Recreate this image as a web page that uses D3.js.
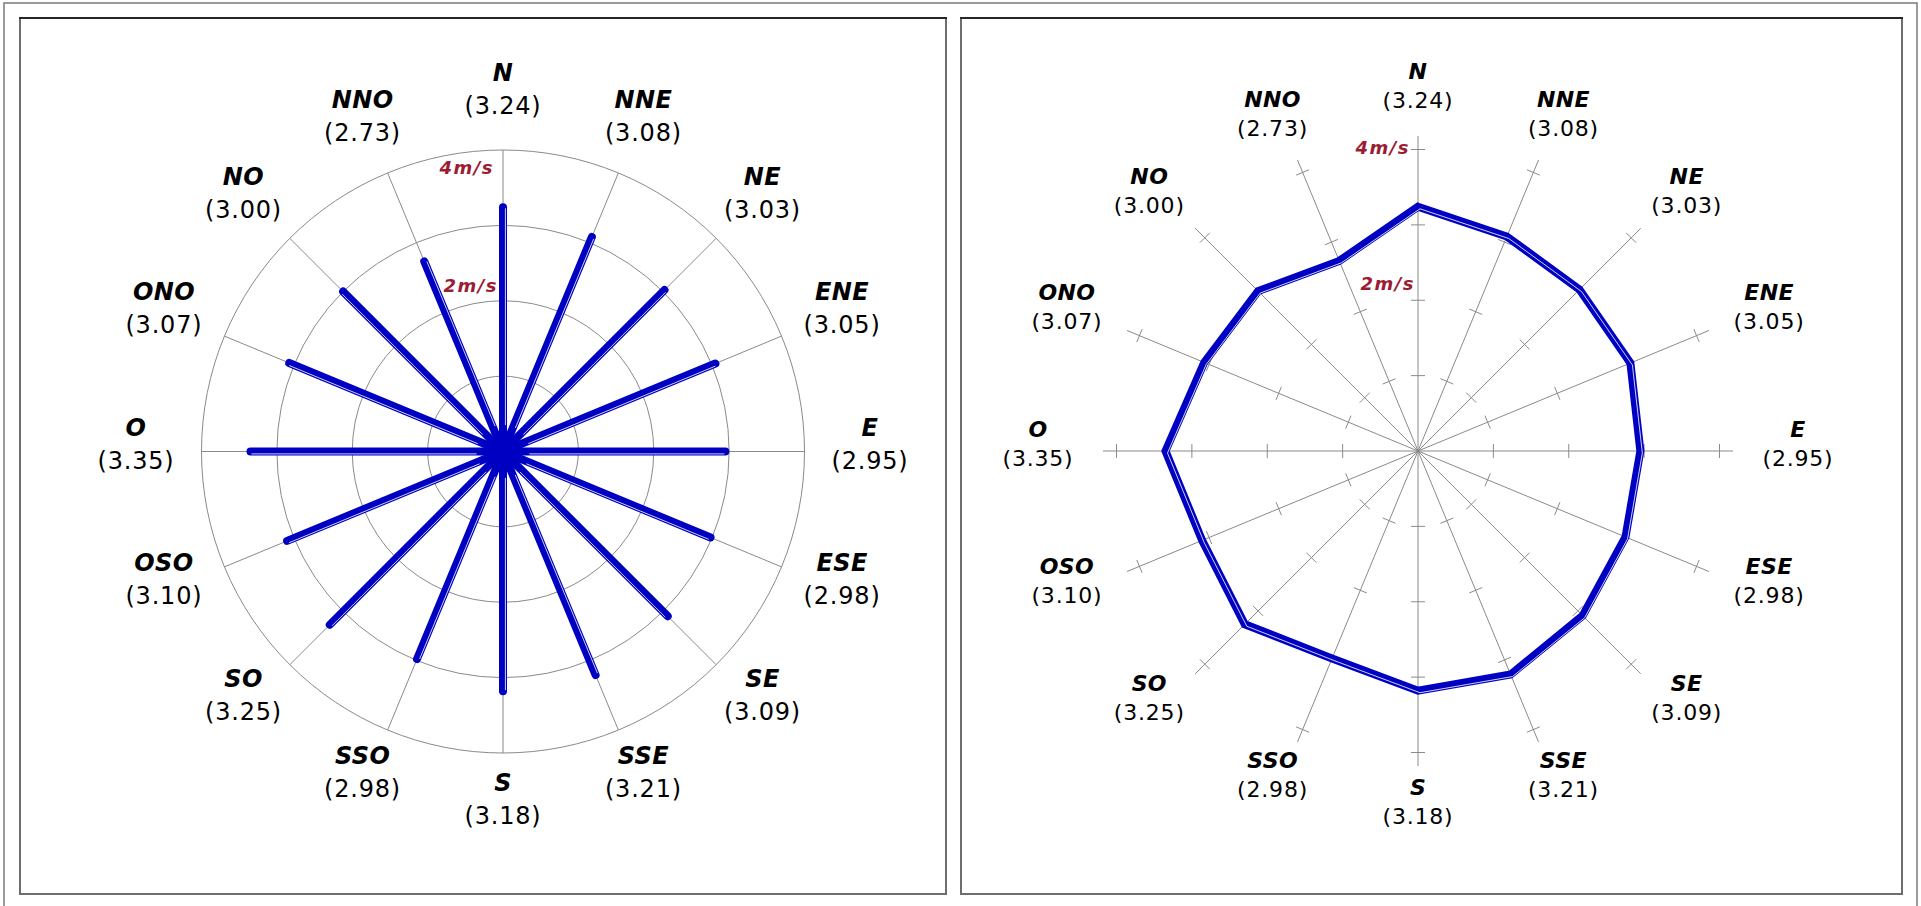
<!DOCTYPE html>
<html><head><meta charset="utf-8">
<script src="https://cdn.jsdelivr.net/npm/d3@7"></script>
<style>body{margin:0;background:#fff}svg{display:block}</style>
</head><body>
<svg id="c" width="1921" height="906"></svg>
<script>
// ---- data ----
const directions = ["N","NNE","NE","ENE","E","ESE","SE","SSE","S","SSO","SO","OSO","O","ONO","NO","NNO"];
const speeds = [3.24,3.08,3.03,3.05,2.95,2.98,3.09,3.21,3.18,2.98,3.25,3.10,3.35,3.07,3.00,2.73];
const ringValues = [1,2,3,4];
const speedLabelValues = [2,4];
const speedLabelTexts = ["2m/s","4m/s"];

// ---- layout / style ----
const svg = d3.select("#c");
const BLUE = "#0000c2", GRID = "#8a8a8a", RED = "#9b1c33";
const FONT = "'DejaVu Sans', Verdana, sans-serif";
const angle = d3.scalePoint().domain(directions).range([0, 2*Math.PI*(directions.length-1)/directions.length]);
const radius = d3.scaleLinear().domain([0,4]).range([0,301.5]);
const data = directions.map((d,i)=>({dir:d, v:speeds[i]}));
const fmt = d3.format(".2f");

// outer frame
svg.append("rect").attr("x",4).attr("y",3).attr("width",1913).attr("height",920)
  .attr("fill","none").attr("stroke","#7a7a7a").attr("stroke-width",1.5);

function panel(x0,y0,x1,y1){
  svg.append("rect").attr("x",x0).attr("y",y0).attr("width",x1-x0).attr("height",y1-y0)
    .attr("fill","#fff").attr("stroke","#6e6e6e").attr("stroke-width",2);
  svg.append("line").attr("x1",x0-1).attr("x2",x1+1).attr("y1",y0).attr("y2",y0)
    .attr("stroke","#111").attr("stroke-width",1.3);
}
panel(20,18,946,894);
panel(961,18,1902,894);

function dirLabels(g, cfg){
  const sel = g.selectAll("g.lab").data(data).join("g").attr("class","lab")
    .attr("transform", d=>{const a=angle(d.dir); return `translate(${cfg.rx*Math.sin(a)},${-cfg.ry*Math.cos(a)+cfg.dy})`;});
  sel.append("text").attr("y",-cfg.gap/2).attr("dy","0.36em").attr("text-anchor","middle")
    .style("font-family",FONT).style("font-size",cfg.fs+"px").style("font-weight","bold").style("font-style","italic")
    .style("letter-spacing","0.4px").attr("fill","#000").text(d=>d.dir);
  sel.append("text").attr("y",cfg.gap/2).attr("dy","0.36em").attr("text-anchor","middle")
    .style("font-family",FONT).style("font-size",cfg.fs+"px").style("letter-spacing","0.8px")
    .attr("fill","#000").text(d=>"("+fmt(d.v)+")");
}

function speedLabels(g, offs){
  g.selectAll("text.sp").data(speedLabelValues).join("text").attr("class","sp")
    .attr("x",(d,i)=>offs[i][0]).attr("y",(d,i)=>-radius(d)+offs[i][1])
    .attr("text-anchor","end").attr("fill",RED)
    .style("font-family",FONT).style("font-size","18px").style("font-weight","bold").style("font-style","italic")
    .style("letter-spacing","1.5px")
    .text((d,i)=>speedLabelTexts[i]);
}

function normalOf(a){ // perpendicular pointing down/right
  let nx=Math.cos(a), ny=Math.sin(a);
  if (nx+ny < -1e-6 || (Math.abs(nx+ny)<1e-6 && ny<0)) {nx=-nx; ny=-ny;}
  return [nx,ny];
}

// ---- left chart: radial bars ----
const gL = svg.append("g").attr("transform","translate(503,451.5)");
gL.selectAll("circle.ring").data(ringValues).join("circle").attr("class","ring")
  .attr("r",d=>radius(d)).attr("fill","none").attr("stroke",GRID).attr("stroke-width",1);
gL.selectAll("line.spoke").data(directions).join("line").attr("class","spoke")
  .attr("x1",0).attr("y1",0)
  .attr("x2",d=>d3.pointRadial(angle(d),radius(4))[0])
  .attr("y2",d=>d3.pointRadial(angle(d),radius(4))[1])
  .attr("stroke",GRID).attr("stroke-width",1);
gL.selectAll("line.bar").data(data).join("line").attr("class","bar")
  .attr("x1",0).attr("y1",0)
  .attr("x2",d=>d3.pointRadial(angle(d.dir),radius(d.v))[0])
  .attr("y2",d=>d3.pointRadial(angle(d.dir),radius(d.v))[1])
  .attr("stroke",BLUE).attr("stroke-width",8).attr("stroke-linecap","round");
gL.selectAll("line.hl").data(data).join("line").attr("class","hl")
  .each(function(d){
    const a=angle(d.dir), n=normalOf(a), p=d3.pointRadial(a,radius(d.v)-1), o=2.4;
    const s=d3.pointRadial(a,radius(0.35));
    d3.select(this).attr("x1",s[0]+n[0]*o).attr("y1",s[1]+n[1]*o)
      .attr("x2",p[0]+n[0]*o).attr("y2",p[1]+n[1]*o);
  })
  .attr("stroke","#fff").attr("stroke-width",0.9).attr("opacity",0.9);
speedLabels(gL, [[-5,-9],[-9,24]]);
dirLabels(gL, {rx:367, ry:355, dy:-8, fs:24, gap:33});

// ---- right chart: radar polygon ----
const gR = svg.append("g").attr("transform","translate(1418,451)");
const axisLen = 315, tickHalf = 7;
gR.selectAll("line.axis").data(directions).join("line").attr("class","axis")
  .attr("x1",0).attr("y1",0)
  .attr("x2",d=>d3.pointRadial(angle(d),axisLen)[0])
  .attr("y2",d=>d3.pointRadial(angle(d),axisLen)[1])
  .attr("stroke",GRID).attr("stroke-width",1);
const ticks = [];
directions.forEach(d=>ringValues.forEach(v=>ticks.push({dir:d,v})));
gR.selectAll("line.tick").data(ticks).join("line").attr("class","tick")
  .each(function(t){
    const a=angle(t.dir), p=d3.pointRadial(a,radius(t.v)), n=[Math.cos(a),Math.sin(a)];
    d3.select(this).attr("x1",p[0]-n[0]*tickHalf).attr("y1",p[1]-n[1]*tickHalf)
      .attr("x2",p[0]+n[0]*tickHalf).attr("y2",p[1]+n[1]*tickHalf);
  })
  .attr("stroke",GRID).attr("stroke-width",1);
const radar = d3.lineRadial().curve(d3.curveLinearClosed)
  .angle(d=>angle(d.dir)).radius(d=>radius(d.v));
gR.append("path").attr("d",radar(data)).attr("fill","none")
  .attr("stroke",BLUE).attr("stroke-width",8).attr("stroke-linejoin","miter");
gR.append("path").attr("d",radar(data)).attr("fill","none").attr("transform","translate(2,2)")
  .attr("stroke","#fff").attr("stroke-width",0.9).attr("opacity",0.9);
speedLabels(gR, [[-3,-10],[-8,4]]);
dirLabels(gR, {rx:380, ry:358, dy:-7, fs:22, gap:29});
</script>
</body></html>
